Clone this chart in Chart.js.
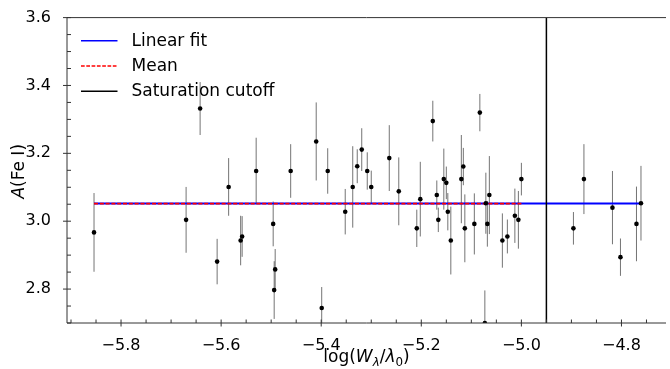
<!DOCTYPE html>
<html>
<head>
<meta charset="utf-8">
<script src="https://cdn.jsdelivr.net/npm/chart.js@4.4.1/dist/chart.umd.min.js"></script>
<style>
html,body{margin:0;padding:0;background:#fff;}
canvas{display:block;}
</style>
</head>
<body>
<canvas id="c" width="670" height="369"></canvas>
<script>
// ---- data ----
const xs = [-5.854,-5.670,-5.642,-5.608,-5.585,-5.561,-5.558,-5.530,-5.496,-5.494,-5.492,-5.461,-5.410,-5.399,-5.387,-5.352,-5.337,-5.328,-5.319,-5.308,-5.300,-5.264,-5.245,-5.209,-5.202,-5.177,-5.169,-5.166,-5.155,-5.150,-5.147,-5.141,-5.120,-5.116,-5.113,-5.094,-5.083,-5.073,-5.071,-5.068,-5.064,-5.038,-5.028,-5.013,-5.006,-5.000,-4.896,-4.875,-4.818,-4.802,-4.770,-4.761];
const ys = [2.967,3.004,3.332,2.881,3.101,2.943,2.955,3.148,2.992,2.797,2.858,3.148,3.235,2.744,3.148,3.028,3.101,3.162,3.211,3.148,3.101,3.186,3.088,2.979,3.065,3.295,3.077,3.004,3.124,3.113,3.028,2.943,3.124,3.161,2.979,2.992,3.320,2.700,3.053,2.992,3.077,2.943,2.955,3.016,3.004,3.124,2.979,3.124,3.040,2.894,2.992,3.053];
const errs = [0.116,0.097,0.078,0.067,0.085,0.073,0.060,0.098,0.066,0.085,0.060,0.079,0.115,0.062,0.067,0.067,0.120,0.050,0.063,0.055,0.048,0.097,0.100,0.055,0.110,0.060,0.043,0.036,0.090,0.048,0.055,0.100,0.130,0.055,0.100,0.090,0.055,0.096,0.090,0.067,0.115,0.080,0.050,0.080,0.085,0.048,0.048,0.103,0.108,0.055,0.110,0.110];
const fitX = [-5.854, -4.761];
const fitY = [3.052, 3.052];
const meanX = [-5.854, -5.000];
const meanY = [3.052, 3.052];
const cutoffX = -4.95;
const xMin = -5.908, xMax = -4.711;
const yMin = 2.70, yMax = 3.60;
const xTicks = [-5.8, -5.6, -5.4, -5.2, -5.0, -4.8];
const xTickLabels = ['\u22125.8', '\u22125.6', '\u22125.4', '\u22125.2', '\u22125.0', '\u22124.8'];
const yTicks = [2.8, 3.0, 3.2, 3.4, 3.6];
const yTickLabels = ['2.8', '3.0', '3.2', '3.4', '3.6'];
const legendLabels = ['Linear fit', 'Mean', 'Saturation cutoff'];

const FONT = "'DejaVu Sans'";

const pts = xs.map((x, i) => ({x: x, y: ys[i]}));

function labelFor(list, labels, v) {
  for (let i = 0; i < list.length; i++) if (Math.abs(list[i] - v) < 1e-6) return labels[i];
  return '';
}

const errorBars = {
  id: 'errorBars',
  beforeDatasetsDraw(chart) {
    const ctx = chart.ctx, xs_ = chart.scales.x, ys_ = chart.scales.y, a = chart.chartArea;
    ctx.save();
    ctx.beginPath();
    ctx.rect(a.left, a.top, a.right - a.left, a.bottom - a.top);
    ctx.clip();
    ctx.strokeStyle = 'rgba(0,0,0,0.55)';
    ctx.lineWidth = 1;
    for (let i = 0; i < xs.length; i++) {
      const px = xs_.getPixelForValue(xs[i]);
      ctx.beginPath();
      ctx.moveTo(px, ys_.getPixelForValue(ys[i] - errs[i]));
      ctx.lineTo(px, ys_.getPixelForValue(ys[i] + errs[i]));
      ctx.stroke();
    }
    ctx.restore();
  }
};

const frame = {
  id: 'frame',
  afterDraw(chart) {
    const ctx = chart.ctx, a = chart.chartArea, sx = chart.scales.x, sy = chart.scales.y;
    ctx.save();
    ctx.strokeStyle = '#333';
    ctx.lineWidth = 1;
    ctx.beginPath();
    ctx.moveTo(a.left, a.top); ctx.lineTo(a.right, a.top);
    ctx.moveTo(a.left, a.top); ctx.lineTo(a.left, a.bottom);
    ctx.moveTo(a.left, a.bottom); ctx.lineTo(a.right, a.bottom);
    ctx.stroke();
    // ticks
    ctx.beginPath();
    xTicks.forEach(v => { const p = sx.getPixelForValue(v); ctx.moveTo(p, a.bottom - 3.5); ctx.lineTo(p, a.bottom + 3.5); });
    for (let k = 0; ; k++) {
      const v = -5.90 + k * 0.05;
      if (v > xMax) break;
      if (xTicks.some(t => Math.abs(t - v) < 1e-6)) continue;
      const p = sx.getPixelForValue(v); ctx.moveTo(p, a.bottom); ctx.lineTo(p, a.bottom - 3.5);
    }
    yTicks.forEach(v => { const p = sy.getPixelForValue(v); ctx.moveTo(a.left - 4, p); ctx.lineTo(a.left + 4, p); });
    for (let k = 0; ; k++) {
      const v = 2.70 + k * 0.05;
      if (v > yMax + 1e-6) break;
      if (yTicks.some(t => Math.abs(t - v) < 1e-6)) continue;
      const p = sy.getPixelForValue(v); ctx.moveTo(a.left, p); ctx.lineTo(a.left + 4, p);
    }
    ctx.stroke();

    // legend
    const rows = [40.7, 66, 91.3];
    const styles = [
      {c: '#0000ff', w: 1.6, d: []},
      {c: '#ff0000', w: 1.3, d: [3.7, 1.6]},
      {c: '#000000', w: 1.6, d: []}
    ];
    rows.forEach((y, i) => {
      ctx.beginPath();
      ctx.strokeStyle = styles[i].c;
      ctx.lineWidth = styles[i].w;
      ctx.setLineDash(styles[i].d);
      ctx.moveTo(81, y); ctx.lineTo(117.5, y);
      ctx.stroke();
      ctx.setLineDash([]);
      ctx.fillStyle = '#000';
      ctx.font = '17px ' + FONT;
      ctx.textBaseline = 'middle';
      ctx.textAlign = 'left';
      ctx.fillText(legendLabels[i], 131.5, y + 0.5);
    });

    // x title: log(W_λ/λ_0)
    const fs = 17, sub = fs * 0.7;
    const parts = [
      {t: 'log(', f: fs + 'px ' + FONT, dy: 0},
      {t: 'W', f: 'italic ' + fs + 'px ' + FONT, dy: 0},
      {t: '\u03bb', f: 'italic ' + sub + 'px ' + FONT, dy: 3.5},
      {t: '/', f: fs + 'px ' + FONT, dy: 0},
      {t: '\u03bb', f: 'italic ' + fs + 'px ' + FONT, dy: 0},
      {t: '0', f: sub + 'px ' + FONT, dy: 3.5},
      {t: ')', f: fs + 'px ' + FONT, dy: 0}
    ];
    let total = 0;
    parts.forEach(p => { ctx.font = p.f; p.w = ctx.measureText(p.t).width; total += p.w; });
    let x0 = (a.left + a.right) / 2 - total / 2;
    ctx.textBaseline = 'alphabetic';
    ctx.textAlign = 'left';
    parts.forEach(p => { ctx.font = p.f; ctx.fillText(p.t, x0, 362 + p.dy); x0 += p.w; });

    // y title: A(Fe I)
    ctx.save();
    ctx.translate(24, (a.top + a.bottom) / 2 + 1);
    ctx.rotate(-Math.PI / 2);
    const yp = [
      {t: 'A', f: 'italic ' + fs + 'px ' + FONT},
      {t: '(Fe I)', f: fs + 'px ' + FONT}
    ];
    let tw = 0;
    yp.forEach(p => { ctx.font = p.f; p.w = ctx.measureText(p.t).width; tw += p.w; });
    let yx = -tw / 2;
    yp.forEach(p => { ctx.font = p.f; ctx.fillText(p.t, yx, 0); yx += p.w; });
    ctx.restore();
    ctx.restore();
  }
};

new Chart(document.getElementById('c'), {
  type: 'scatter',
  data: {
    datasets: [
      {label: 'Linear fit', data: fitX.map((x, i) => ({x: x, y: fitY[i]})), showLine: true, borderColor: '#0000ff', borderWidth: 2, pointRadius: 0, order: 4},
      {label: 'Mean', data: meanX.map((x, i) => ({x: x, y: meanY[i]})), showLine: true, borderColor: '#ff0000', borderWidth: 1.8, borderDash: [4, 1.8], pointRadius: 0, order: 3},
      {label: 'Saturation cutoff', data: [{x: cutoffX, y: yMin}, {x: cutoffX, y: yMax}], showLine: true, borderColor: '#000000', borderWidth: 1.5, pointRadius: 0, order: 2},
      {label: 'data', data: pts, pointRadius: 2.3, pointBackgroundColor: '#000', pointBorderWidth: 0, borderColor: '#000', order: 1, clip: 0}
    ]
  },
  options: {
    responsive: false,
    animation: false,
    devicePixelRatio: 1,
    layout: {padding: {top: 17, right: 0, left: 0, bottom: 0}},
    plugins: {legend: {display: false}, tooltip: {enabled: false}},
    scales: {
      x: {
        type: 'linear', min: xMin, max: xMax,
        grid: {display: false}, border: {display: false},
        afterBuildTicks: s => { s.ticks = xTicks.map(v => ({value: v})); },
        afterFit: s => { s.height = 46; },
        ticks: {padding: 5, color: '#000', font: {family: 'DejaVu Sans', size: 16}, maxRotation: 0, autoSkip: false,
          callback: v => labelFor(xTicks, xTickLabels, v)}
      },
      y: {
        type: 'linear', min: yMin, max: yMax,
        grid: {display: false}, border: {display: false},
        afterBuildTicks: s => { s.ticks = yTicks.map(v => ({value: v})); },
        afterFit: s => { s.width = 67; },
        ticks: {padding: 8, color: '#000', font: {family: 'DejaVu Sans', size: 16}, autoSkip: false,
          callback: v => labelFor(yTicks, yTickLabels, v)}
      }
    }
  },
  plugins: [errorBars, frame]
});
</script>
</body>
</html>
